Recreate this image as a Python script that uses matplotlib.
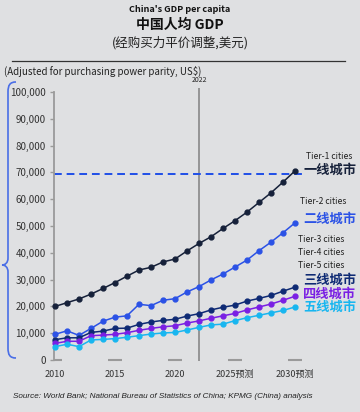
import numpy as np
import matplotlib
matplotlib.use("Agg")
import matplotlib.pyplot as plt
from matplotlib.path import Path
from matplotlib.patches import PathPatch
from matplotlib.ticker import FuncFormatter

plt.rcParams['font.family'] = ['Noto Sans CJK SC', 'DejaVu Sans']

# data (GDP per capita, PPP, US$)
years = list(range(2010, 2031))
tier1 = [20000, 21400, 22800, 24600, 26700, 28900, 31300, 33600, 34600, 36600, 37700,
         40700, 43500, 46000, 49100, 52000, 55200, 58800, 62400, 66400, 70600]
tier2 = [9600, 10900, 9200, 11800, 14500, 16000, 16500, 20800, 20300, 22300, 22900,
         25400, 27400, 29900, 32100, 34700, 37300, 40800, 44000, 47500, 51200]
tier3 = [7600, 8300, 8300, 10300, 10800, 11800, 11900, 13300, 14200, 14800, 15200,
         16400, 17300, 18700, 19700, 20500, 22000, 23000, 24100, 25700, 27200]
tier4 = [6200, 7000, 7000, 9100, 9300, 9600, 10200, 11100, 11800, 12400, 12800,
         13800, 14600, 15600, 16500, 17400, 18700, 19800, 20900, 22300, 23800]
tier5 = [5000, 5900, 5000, 7500, 7700, 8000, 8500, 9100, 9700, 10100, 10300,
         11200, 12200, 13100, 13400, 14700, 15800, 16700, 17600, 18500, 19800]
target_level = 69500
forecast_start = 2022

tick_years = [2010, 2015, 2020, 2025, 2030]
tick_labels = ['2010', '2015', '2020', '2025预测', '2030预测']

series = [
    (tier1, '#16213a'),
    (tier2, '#2b52e6'),
    (tier3, '#0e2a74'),
    (tier4, '#7a1fe4'),
    (tier5, '#18b6f0'),
]

W, H = 360, 412
bg = '#dfe0e2'


def px(x, y):
    return x / W, 1 - y / H


fig = plt.figure(figsize=(3.6, 4.12), dpi=100, facecolor=bg)
ax = fig.add_axes([54 / W, (H - 365.4) / H, 291 / W, 278.7 / H])
ax.set_facecolor(bg)

ax.set_xlim(2010 - 1 / 12, 2010 - 1 / 12 + 291 / 12)
ax.set_ylim(-2000, 102000)

for vals, col in series:
    ax.plot(years, vals, color=col, lw=1.1, marker='o', ms=3.5, clip_on=False, zorder=3)

ax.hlines(target_level, ax.get_xlim()[0], 2030.6, colors='#1f4fe8', lw=1.4,
          linestyles=(0, (4, 2.5)), zorder=2, clip_on=False)
ax.vlines(forecast_start, -300, 101500, colors='#8f8f8f', lw=1.3, zorder=1, clip_on=False)
ax.text(forecast_start, 103000, '2022', ha='center', va='bottom', fontsize=5, color='#222')

# short grey dashes on the baseline at each labelled year
ax.hlines([0] * len(tick_years), [t - 0.6 for t in tick_years], [t + 0.6 for t in tick_years],
          colors='#9a9a9a', lw=1.5, zorder=1)

for s in ['top', 'right', 'bottom']:
    ax.spines[s].set_visible(False)
ax.spines['left'].set_bounds(0, 100000)
ax.spines['left'].set_color('#9a9a9a')
ax.spines['left'].set_linewidth(1.3)

ax.set_yticks(range(0, 100001, 10000))
ax.yaxis.set_major_formatter(FuncFormatter(lambda v, p: f'{int(v):,}'))
ax.tick_params(axis='y', length=3, width=1, color='#9a9a9a', labelsize=7,
               labelcolor='#333333', pad=3)
ax.set_xticks(tick_years)
ax.set_xticklabels(tick_labels)
ax.tick_params(axis='x', length=0, labelsize=6.5, labelcolor='#333333', pad=3)

# titles
fig.text(*px(180, 9), "China's GDP per capita", ha='center', va='center',
         fontsize=6.5, fontweight='bold', color='#111')
fig.text(*px(180, 25), '中国人均 GDP', ha='center', va='center',
         fontsize=10, fontweight='bold', color='#111')
fig.text(*px(180, 43), '(经购买力平价调整,美元)', ha='center', va='center',
         fontsize=9, color='#222')
fig.add_artist(plt.Line2D([12 / W, 345 / W], [1 - 61 / H, 1 - 61 / H],
                          color='#333', lw=0.9))
fig.text(*px(4, 71), '(Adjusted for purchasing power parity, US$)', ha='left', va='center',
         fontsize=7, color='#222')

# right side labels
fig.text(*px(306, 156), 'Tier-1 cities', ha='left', va='center', fontsize=6.2, color='#222')
fig.text(*px(303, 170), '一线城市', ha='left', va='center', fontsize=9.5,
         fontweight='bold', color='#16213a')
fig.text(*px(300, 202), 'Tier-2 cities', ha='left', va='center', fontsize=6.2, color='#222')
fig.text(*px(303, 219), '二线城市', ha='left', va='center', fontsize=9.5,
         fontweight='bold', color='#2b52e6')
for i, t in enumerate(['Tier-3 cities', 'Tier-4 cities', 'Tier-5 cities']):
    fig.text(*px(298, 240 + 12.5 * i), t, ha='left', va='center', fontsize=6.2, color='#222')
for i, (t, c) in enumerate([('三线城市', '#0e2a74'), ('四线城市', '#7a1fe4'), ('五线城市', '#18b6f0')]):
    fig.text(*px(303, 280 + 13.5 * i), t, ha='left', va='center', fontsize=9.5,
             fontweight='bold', color=c)

fig.text(*px(13, 397), 'Source: World Bank; National Bureau of Statistics of China; KPMG (China) analysis',
         ha='left', va='center', fontsize=5.9, style='italic', family='Liberation Sans', color='#222')

# blue brace on the left
brace_pts = [(16, 82), (10, 82), (8, 85), (8, 92), (8, 258), (8, 263), (5, 265), (2, 265),
             (5, 265), (8, 267), (8, 272), (8, 348), (8, 355), (10, 358), (16, 358)]
codes = [Path.MOVETO, Path.CURVE4, Path.CURVE4, Path.CURVE4, Path.LINETO,
         Path.CURVE4, Path.CURVE4, Path.CURVE4, Path.CURVE4, Path.CURVE4, Path.CURVE4,
         Path.LINETO, Path.CURVE4, Path.CURVE4, Path.CURVE4]
brace = Path([px(x, y) for x, y in brace_pts], codes)
fig.add_artist(PathPatch(brace, transform=fig.transFigure, fill=False,
                         edgecolor='#4a6ee6', lw=1.2))

fig.savefig('out.png', dpi=100, facecolor=bg)
